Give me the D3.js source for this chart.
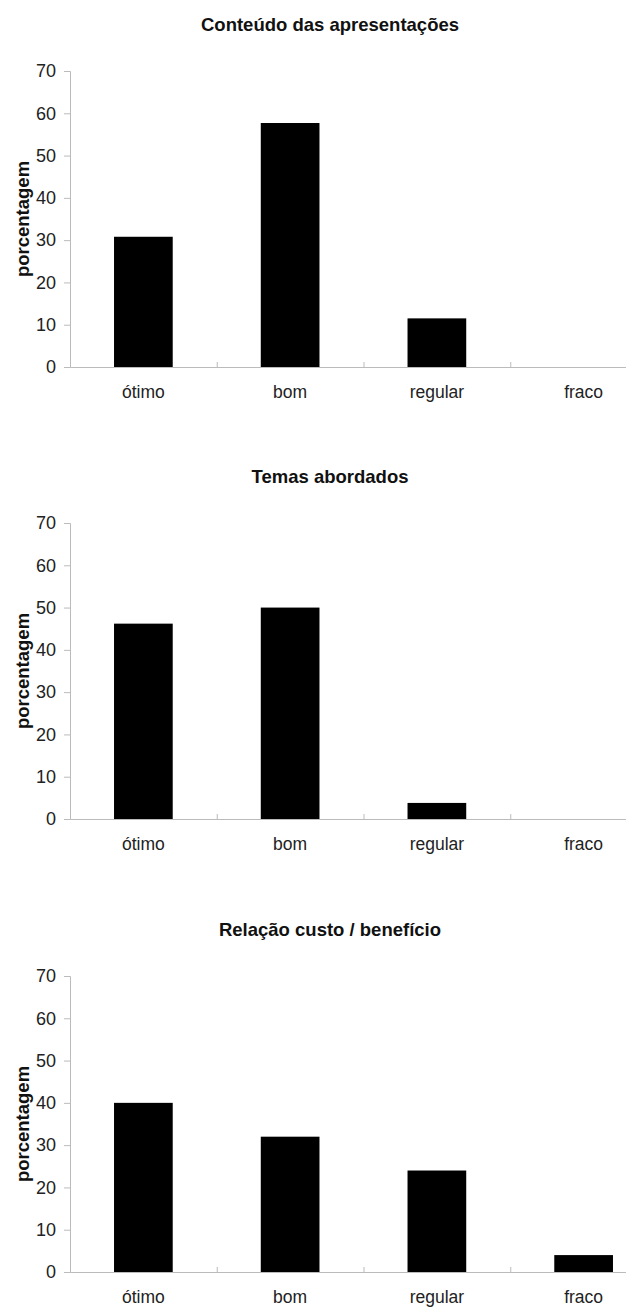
<!DOCTYPE html>
<html>
<head>
<meta charset="utf-8">
<script src="https://cdn.jsdelivr.net/npm/d3@7"></script>
<style>
  body { margin: 0; background: #fff; }
  svg { display: block; font-family: "Liberation Sans", Arial, sans-serif; }
</style>
</head>
<body>
<div id="chart"></div>
<script>
// Categories shared by all three panels
const categories = ['ótimo', 'bom', 'regular', 'fraco'];

// Panel titles and values (percent)
const titles = ['Conteúdo das apresentações', 'Temas abordados', 'Relação custo / benefício'];
const conteudo = [30.8, 57.7, 11.5, 0];
const temas = [46.2, 50.0, 3.8, 0];
const custo = [40, 32, 24, 4];
const yTicks = [0, 10, 20, 30, 40, 50, 60, 70];

const panels = [conteudo, temas, custo];

const width = 626;
const height = 1308;
const plotTops = [71, 523, 976];
const plotH = 296;
const left = 70;
const right = 657; // plot runs past the picture edge

const svg = d3.select('#chart').append('svg')
  .attr('width', width)
  .attr('height', height);

const x = d3.scaleBand()
  .domain(categories)
  .range([left, right])
  .paddingInner(0.6)
  .paddingOuter(0.3);

// boundary ticks between categories
const xEdge = d3.scaleLinear()
  .domain([0, categories.length])
  .range([left, right]);

const y = d3.scaleLinear()
  .domain([0, 70])
  .range([plotH, 0]);

panels.forEach((values, i) => {
  const g = svg.append('g')
    .attr('transform', `translate(0, ${plotTops[i]})`);

  // Title
  g.append('text')
    .attr('x', 330)
    .attr('y', -40)
    .attr('text-anchor', 'middle')
    .attr('font-size', 18.5)
    .attr('font-weight', 'bold')
    .attr('fill', '#111')
    .text(titles[i]);

  // Bars
  g.selectAll('rect.bar')
    .data(values)
    .join('rect')
    .attr('class', 'bar')
    .attr('x', (d, j) => x(categories[j]))
    .attr('width', x.bandwidth())
    .attr('y', d => y(d))
    .attr('height', d => plotH - y(d))
    .attr('fill', '#000');

  // Y axis
  const yAxis = g.append('g')
    .attr('transform', `translate(${left}, 0)`)
    .call(d3.axisLeft(y).tickValues(yTicks).tickSize(6).tickPadding(8));
  yAxis.select('.domain').attr('stroke', '#bbb');
  yAxis.selectAll('.tick line').attr('stroke', '#bbb');
  yAxis.selectAll('.tick text')
    .attr('font-size', 18)
    .attr('fill', '#222')
    .attr('font-family', '"Liberation Sans", Arial, sans-serif');

  // X axis line with inside boundary ticks
  const xAxis = g.append('g')
    .attr('transform', `translate(0, ${plotH})`)
    .call(d3.axisBottom(xEdge).tickValues(d3.range(categories.length + 1))
      .tickSize(-5).tickSizeOuter(0).tickFormat(''));
  xAxis.select('.domain').attr('stroke', '#bbb');
  xAxis.selectAll('.tick line').attr('stroke', '#bbb');

  // Category labels
  const xLabels = g.append('g')
    .attr('transform', `translate(0, ${plotH})`)
    .call(d3.axisBottom(x).tickSize(0).tickPadding(19));
  xLabels.select('.domain').remove();
  xLabels.selectAll('.tick text')
    .attr('font-size', 17.5)
    .attr('fill', '#222')
    .attr('font-family', '"Liberation Sans", Arial, sans-serif');

  // Y axis title
  g.append('text')
    .attr('transform', `translate(29, ${plotH / 2}) rotate(-90)`)
    .attr('text-anchor', 'middle')
    .attr('font-size', 18.5)
    .attr('font-weight', 'bold')
    .attr('fill', '#111')
    .text('porcentagem');
});
</script>
</body>
</html>
